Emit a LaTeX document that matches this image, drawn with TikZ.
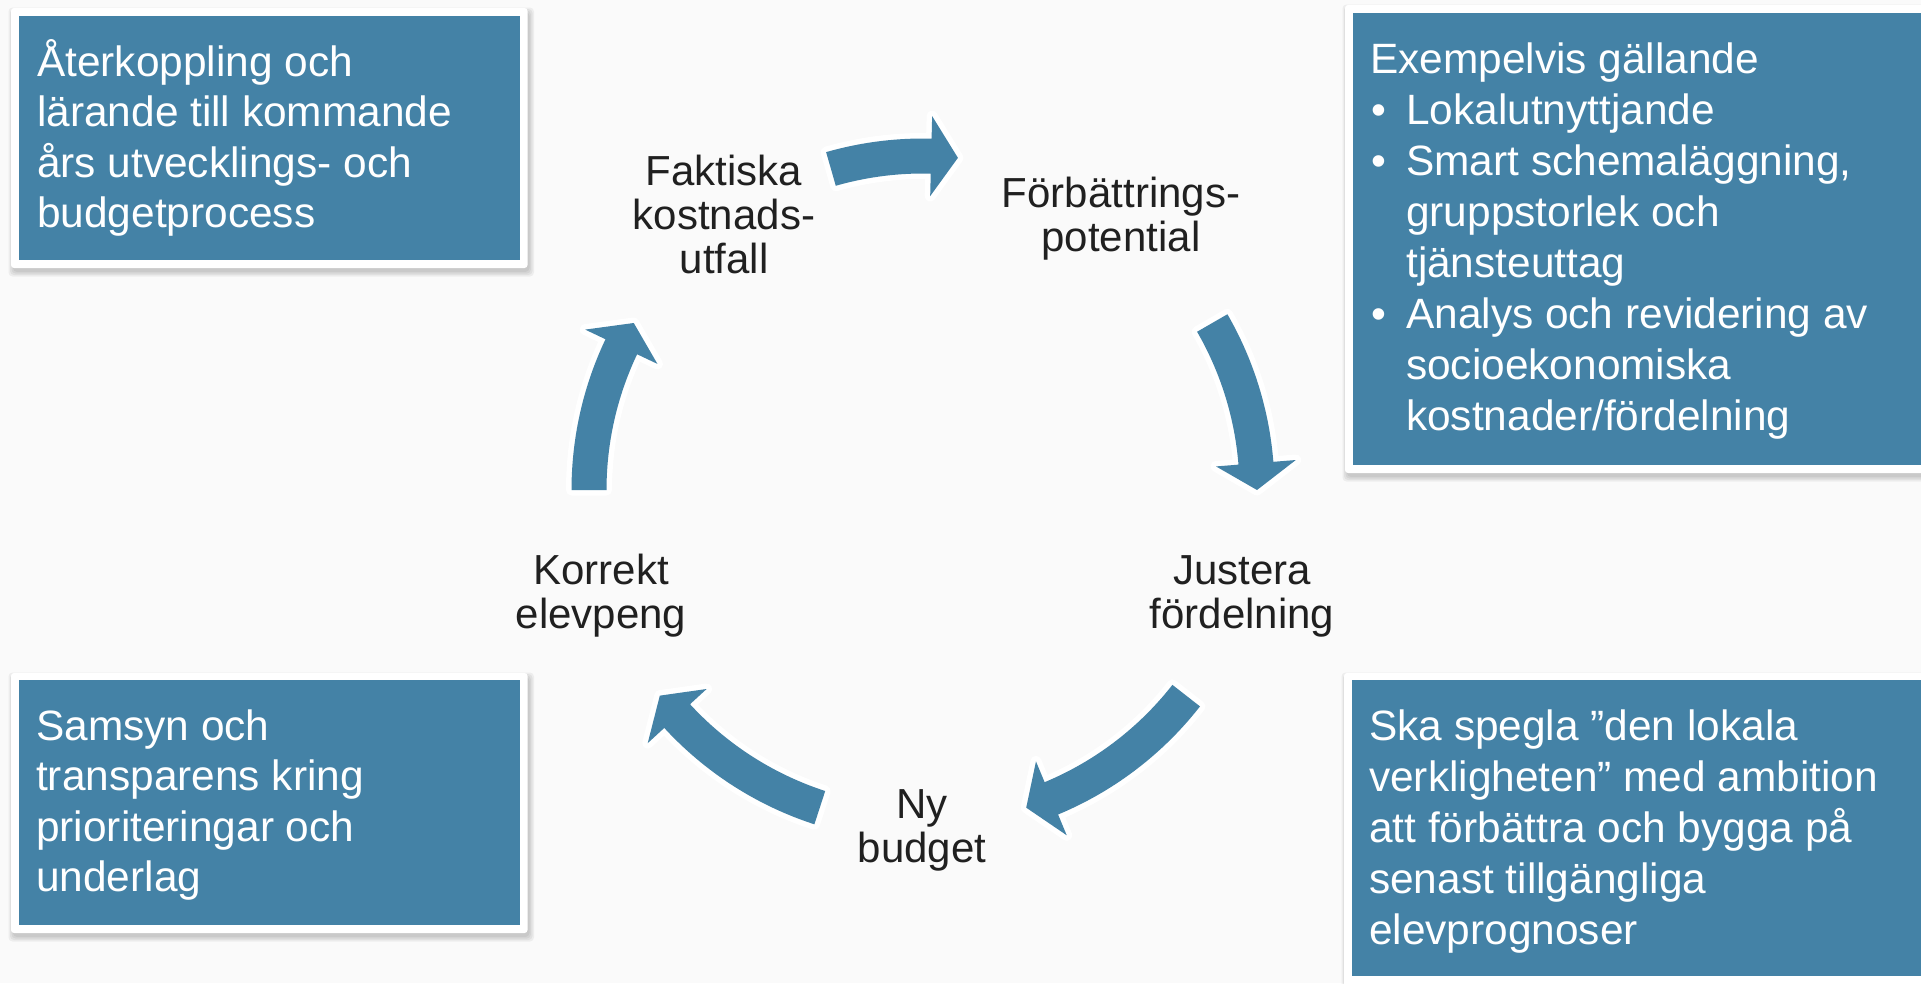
\documentclass[tikz,border=0pt]{standalone}
\usepackage{fontspec}
\setmainfont{Liberation Sans}
\definecolor{bg}{HTML}{FAFAFA}
\definecolor{panelblue}{HTML}{4482A6}
\definecolor{lbl}{HTML}{202020}
\tikzset{
  frame/.style={fill=white, rounded corners=3pt},
  panel/.style={fill=panelblue},
  shadowlayer/.style={fill=black, opacity=0.05, rounded corners=4pt},
  boxtext/.style={anchor=base west, inner sep=0pt, text=white},
  bigtext/.style={font=\fontsize{42.4}{50.5}\selectfont},
  smalltext/.style={font=\fontsize{42.4}{51}\selectfont},
  cyclabel/.style={anchor=base, inner sep=0pt, text=lbl, font=\fontsize{42}{44}\selectfont},
  cycarr/.style={fill=panelblue, preaction={draw=white, line width=11pt, line join=round}},
}
\newcommand{\framedpanel}[8]{%
  \foreach \e in {0,1.5,3,4.5} {\fill[shadowlayer] (#1+2-\e,#2+4-\e) rectangle (#3+2+\e,#4+4+\e);}
  \fill[frame] (#1,#2) rectangle (#3,#4);
  \fill[panel] (#5,#6) rectangle (#7,#8);}
\newcommand{\cycarrow}[2]{%
  \pgfmathsetmacro{\abase}{#2-4.6}%
  \fill[cycarr] plot[domain=#1:\abase, samples=40, variable=\t] (\t:351.5)
    -- (\abase:374) -- (#2:334) -- (\abase:294) -- (\abase:316.5)
    -- plot[domain=\abase:#1, samples=40, variable=\t] (\t:316.5) -- cycle;}
\newcommand{\bul}{\hspace*{1.5pt}\makebox[34.5pt][l]{•}}
\newcommand{\hang}{\hspace*{36pt}}
\begin{document}
\begin{tikzpicture}[x=1pt, y=-1pt]
\useasboundingbox (0,0) rectangle (1921,983);
\clip (0,0) rectangle (1921,983);
\fill[bg] (0,0) rectangle (1921,983);

% side panels
\framedpanel{11}{8}{527.5}{268}{19}{16}{520}{260}
\framedpanel{11}{673}{527.5}{933}{19}{680}{520}{925}
\framedpanel{1345}{5}{1940}{473}{1353}{13}{1940}{465}
\framedpanel{1344}{673}{1940}{995}{1351.5}{680}{1940}{976}

\node[boxtext, bigtext] (tltext) at (37,76) {\parbox[t]{480pt}{\raggedright
  Återkoppling och\\lärande till kommande\\års utvecklings- och\\budgetprocess}};
\node[boxtext, bigtext] (bltext) at (36,740) {\parbox[t]{480pt}{\raggedright
  Samsyn och\\transparens kring\\prioriteringar och\\underlag}};
\node[boxtext, smalltext] (trtext) at (1370,73) {\parbox[t]{600pt}{\raggedright
  Exempelvis gällande\\
  \bul Lokalutnyttjande\\
  \bul Smart schemaläggning,\\
  \hang gruppstorlek och\\
  \hang tjänsteuttag\\
  \bul Analys och revidering av\\
  \hang socioekonomiska\\
  \hang kostnader/fördelning}};
\node[boxtext, smalltext] (brtext) at (1369,740) {\parbox[t]{600pt}{\raggedright
  Ska spegla ”den lokala\\verkligheten” med ambition\\att förbättra och bygga på\\senast tillgängliga\\elevprognoser}};

% cycle labels
\node[cyclabel] (faktiska) at (724,185) {\parbox[t]{300pt}{\centering Faktiska\\kostnads-\\utfall}};
\node[cyclabel] (forbattring) at (1121,207) {\parbox[t]{300pt}{\centering Förbättrings-\\potential}};
\node[cyclabel] (justera) at (1242,584) {\parbox[t]{300pt}{\centering Justera\\fördelning}};
\node[cyclabel] (nybudget) at (922,818) {\parbox[t]{300pt}{\centering Ny\\budget}};
\node[cyclabel] (korrekt) at (601,584) {\parbox[t]{300pt}{\centering Korrekt\\elevpeng}};

% cycle arrows
\coordinate (C) at (923,490);
\begin{scope}[shift={(C)}]
  \cycarrow{-106}{-84}
  \cycarrow{-30}{0}
  \cycarrow{38}{72}
  \cycarrow{108}{142}
  \cycarrow{180}{210}
\end{scope}
\end{tikzpicture}
\end{document}
